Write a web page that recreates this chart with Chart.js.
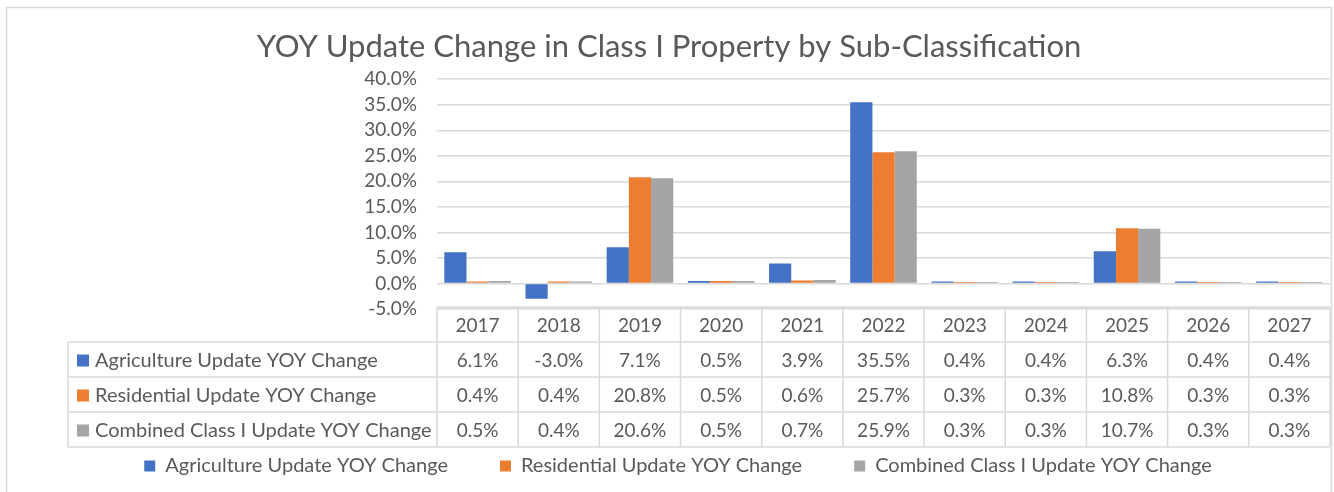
<!DOCTYPE html>
<html>
<head>
<meta charset="utf-8">
<title>YOY Update Change in Class I Property by Sub-Classification</title>
<script src="https://cdn.jsdelivr.net/npm/chart.js@4.4.1/dist/chart.umd.min.js"></script>
<style>
	html, body { margin: 0; padding: 0; background: #fff; }
	#wrap { width: 1334px; height: 492px; position: relative; }
</style>
</head>
<body>
<div id="wrap"><canvas id="yoy-chart"></canvas></div>
<script>
// Data
const years = ["2017", "2018", "2019", "2020", "2021", "2022", "2023", "2024", "2025", "2026", "2027"];
const agricultureData = [6.1, -3.0, 7.1, 0.5, 3.9, 35.5, 0.4, 0.4, 6.3, 0.4, 0.4];
const residentialData = [0.4, 0.4, 20.8, 0.5, 0.6, 25.7, 0.3, 0.3, 10.8, 0.3, 0.3];
const combinedData = [0.5, 0.4, 20.6, 0.5, 0.7, 25.9, 0.3, 0.3, 10.7, 0.3, 0.3];
const seriesNames = [
	"Agriculture Update YOY Change",
	"Residential Update YOY Change",
	"Combined Class I Update YOY Change",
];
const yTicks = { min: -5, max: 40, step: 5 };

const FONT = "Lato, 'Open Sans', sans-serif";
const TEXT = "#595959";
const LINE = "#d9d9d9";
const ROW_H = 35;

// frame around the whole chart
const framePlugin = {
	id: "frame",
	beforeDraw(chart) {
		const ctx = chart.ctx;
		ctx.save();
		ctx.fillStyle = "#fff";
		ctx.fillRect(0, 0, chart.width, chart.height);
		ctx.strokeStyle = LINE;
		ctx.lineWidth = 1.5;
		ctx.strokeRect(6.5, 7.5, 1325, 520);
		ctx.restore();
	},
	// legend sits a little right of the title centre in the original
	afterLayout(chart) {
		if (chart.legend) {
			chart.legend.left += 18;
		}
	},
};

// data table under the plot, aligned with the x scale
const tablePlugin = {
	id: "dataTable",
	afterDraw(chart) {
		const ctx = chart.ctx;
		const x = chart.scales.x;
		const area = chart.chartArea;
		const n = years.length;
		const colW = (area.right - area.left) / n;
		const top = area.bottom - 2;
		const labelLeft = 68;
		const rows = chart.data.datasets;

		ctx.save();
		ctx.strokeStyle = LINE;
		ctx.lineWidth = 1.5;

		// horizontal lines
		ctx.beginPath();
		ctx.moveTo(area.left, top);
		ctx.lineTo(area.right, top);
		for (let r = 1; r <= rows.length + 1; r++) {
			ctx.moveTo(labelLeft, top + r * ROW_H);
			ctx.lineTo(area.right, top + r * ROW_H);
		}
		// vertical lines
		ctx.moveTo(labelLeft, top + ROW_H);
		ctx.lineTo(labelLeft, top + (rows.length + 1) * ROW_H);
		for (let i = 0; i <= n; i++) {
			const px = area.left + i * colW;
			ctx.moveTo(px, top);
			ctx.lineTo(px, top + (rows.length + 1) * ROW_H);
		}
		ctx.stroke();

		ctx.fillStyle = TEXT;
		ctx.font = "19px " + FONT;
		ctx.textAlign = "center";
		ctx.textBaseline = "middle";
		years.forEach((yr, i) => {
			ctx.fillText(yr, x.getPixelForValue(i), top + ROW_H / 2 + 1);
		});

		rows.forEach((ds, r) => {
			const cy = top + (r + 1) * ROW_H + ROW_H / 2 + 1;
			ctx.font = "19px " + FONT;
			ds.data.forEach((v, i) => {
				ctx.textAlign = "center";
				ctx.fillText(v.toFixed(1) + "%", x.getPixelForValue(i), cy);
			});
			ctx.fillStyle = ds.backgroundColor;
			ctx.fillRect(labelLeft + 9, cy - 6, 12, 12);
			ctx.fillStyle = TEXT;
			ctx.font = "20px " + FONT;
			ctx.textAlign = "left";
			ctx.fillText(ds.label, labelLeft + 27, cy);
		});
		ctx.restore();
	},
};

const ctx = document.getElementById("yoy-chart").getContext("2d");
const yoyChart = new Chart(ctx, {
	type: "bar",
	data: {
		labels: years,
		datasets: [
			{ label: seriesNames[0], data: agricultureData, backgroundColor: "#4472C4" },
			{ label: seriesNames[1], data: residentialData, backgroundColor: "#ED7D31" },
			{ label: seriesNames[2], data: combinedData, backgroundColor: "#A5A5A5" },
		],
	},
	options: {
		responsive: true,
		maintainAspectRatio: false,
		animation: false,
		datasets: {
			bar: { categoryPercentage: 0.82, barPercentage: 1.0 },
		},
		layout: { padding: { left: 8, right: 4, top: 0, bottom: 6 } },
		plugins: {
			title: {
				display: true,
				text: "YOY Update Change in Class I Property by Sub-Classification",
				color: TEXT,
				font: { family: FONT, size: 31, weight: "normal" },
				padding: { top: 28, bottom: 14 },
			},
			legend: {
				position: "bottom",
				labels: {
					color: TEXT,
					font: { family: FONT, size: 20 },
					boxWidth: 11,
					boxHeight: 11,
					padding: 52,
				},
			},
			tooltip: { enabled: false },
		},
		scales: {
			x: {
				ticks: { display: false },
				grid: { display: false },
				border: { display: false },
				afterFit(scale) {
					scale.height = 95;
				},
			},
			y: {
				min: yTicks.min,
				max: yTicks.max,
				ticks: {
					stepSize: yTicks.step,
					autoSkip: false,
					color: TEXT,
					padding: 20,
					font: { family: FONT, size: 19 },
					callback: (v) => v.toFixed(1) + "%",
				},
				grid: { color: LINE, lineWidth: 1.5, drawTicks: false },
				border: { display: false },
				afterFit(scale) {
					scale.width = 429;
				},
			},
		},
	},
	plugins: [framePlugin, tablePlugin],
});
</script>
</body>
</html>
